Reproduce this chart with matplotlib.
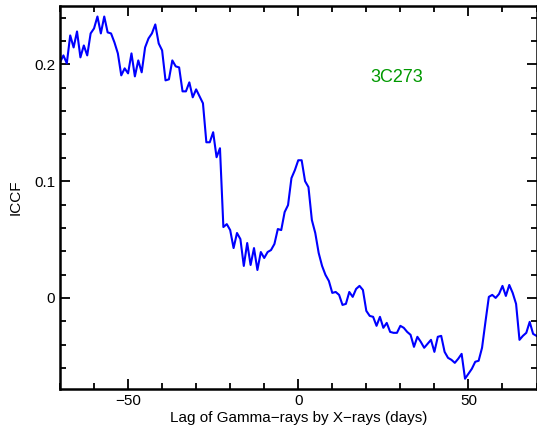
import matplotlib
matplotlib.use("Agg")
import matplotlib.pyplot as plt
import numpy as np
from matplotlib.ticker import MultipleLocator

# cross-correlation of gamma-ray vs X-ray light curves, 1-day lag steps
lag = np.arange(-70, 71)
iccf = [0.2017, 0.2077, 0.2009, 0.2248, 0.2145, 0.2282, 0.2060, 0.2162, 0.2077, 0.2265,
        0.2308, 0.2410, 0.2265, 0.2410, 0.2274, 0.2265, 0.2188, 0.2094, 0.1906, 0.1966,
        0.1923, 0.2094, 0.1897, 0.2034, 0.1932, 0.2145, 0.2222, 0.2265, 0.2342, 0.2179,
        0.2120, 0.1863, 0.1872, 0.2034, 0.1983, 0.1974, 0.1769, 0.1769, 0.1846, 0.1718,
        0.1786, 0.1726, 0.1667, 0.1333, 0.1333, 0.1419, 0.1205, 0.1282, 0.0607, 0.0632,
        0.0581, 0.0427, 0.0556, 0.0504, 0.0274, 0.0470, 0.0282, 0.0427, 0.0239, 0.0393,
        0.0342, 0.0393, 0.0410, 0.0462, 0.0590, 0.0581, 0.0735, 0.0795, 0.1026, 0.1094,
        0.1179, 0.1179, 0.1000, 0.0949, 0.0667, 0.0556, 0.0385, 0.0274, 0.0197, 0.0145,
        0.0043, 0.0051, 0.0026, -0.0060, -0.0051, 0.0051, 0.0009, 0.0077, 0.0103, 0.0068,
        -0.0111, -0.0154, -0.0162, -0.0239, -0.0162, -0.0256, -0.0214, -0.0291, -0.0299, -0.0299,
        -0.0239, -0.0256, -0.0291, -0.0316, -0.0419, -0.0333, -0.0376, -0.0427, -0.0393, -0.0359,
        -0.0462, -0.0333, -0.0325, -0.0462, -0.0513, -0.0530, -0.0556, -0.0521, -0.0479, -0.0692,
        -0.0650, -0.0607, -0.0547, -0.0538, -0.0427, -0.0205, 0.0009, 0.0026, 0.0000, 0.0034,
        0.0103, 0.0017, 0.0111, 0.0043, -0.0051, -0.0359, -0.0325, -0.0299, -0.0205, -0.0308,
        -0.0325]

source = "3C273"

plt.rcParams['font.family'] = ['Liberation Sans', 'DejaVu Sans']

fig = plt.figure(figsize=(5.37, 4.37), dpi=100)
ax = fig.add_axes([60/537, 48/437, 476.5/537, 383/437])

ax.plot(lag, iccf, color='#0000ff', lw=1.5)

ax.set_xlim(-70, 70)
ax.set_ylim(-0.078, 0.25)

ax.xaxis.set_major_locator(MultipleLocator(50))
ax.xaxis.set_minor_locator(MultipleLocator(10))
ax.yaxis.set_major_locator(MultipleLocator(0.1))
ax.yaxis.set_minor_locator(MultipleLocator(0.02))
ax.yaxis.set_major_formatter(plt.FuncFormatter(lambda v, p: '%g' % round(v, 3)))
ax.xaxis.set_major_formatter(plt.FuncFormatter(lambda v, p: ('\u2212%g' % -v) if v < 0 else '%g' % v))

ax.tick_params(which='both', direction='in', top=True, right=True, width=1.3, labelsize=11)
ax.tick_params(which='major', length=7)
ax.tick_params(which='minor', length=4)
for s in ax.spines.values():
    s.set_linewidth(1.8)

ax.set_xlabel('Lag of Gamma\u2212rays by X\u2212rays (days)', fontsize=11, labelpad=2)
ax.set_ylabel('ICCF', fontsize=11, labelpad=8)

ax.text(28.8, 0.189, source, color='#009900', fontsize=13, ha='center', va='center')

fig.savefig('out.png', dpi=100)
